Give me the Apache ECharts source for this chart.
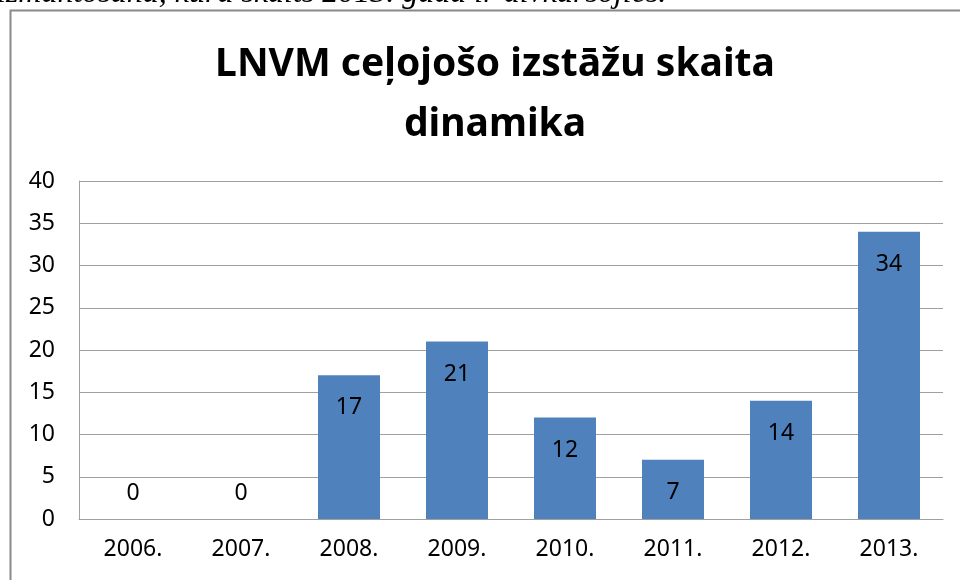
<!DOCTYPE html>
<html>
<head>
<meta charset="utf-8">
<script src="https://cdn.jsdelivr.net/npm/echarts@6/dist/echarts.min.js"></script>
<style>
  html, body { margin: 0; padding: 0; background: #fff; }
  #chartBar { width: 960px; height: 580px; }
</style>
</head>
<body>
<div id="chartBar"></div>
<script>
// dati
var years = ["2006.", "2007.", "2008.", "2009.", "2010.", "2011.", "2012.", "2013."];
var counts = [0, 0, 17, 21, 12, 7, 14, 34];
var yTicks = [0, 5, 10, 15, 20, 25, 30, 35, 40];

var chartBar = echarts.init(document.getElementById("chartBar"));

// nulles vērtībām uzraksts virs ass
var barData = counts.map(function(v) {
  if (v === 0) {
    return { value: v, label: { position: "top", distance: 14 } };
  }
  return v;
});

chartBar.setOption({
  animation: false,
  textStyle: { fontFamily: "Noto Sans" },
  title: {
    text: "LNVM ceļojošo izstāžu skaita\ndinamika",
    left: 490,
    top: 30,
    textAlign: "center",
    textStyle: {
      fontFamily: "Noto Sans",
      fontWeight: "bold",
      fontSize: 39,
      lineHeight: 60,
      color: "#000"
    }
  },
  graphic: [
    {
      type: "rect",
      shape: { x: 10.5, y: 10.5, width: 980, height: 600 },
      style: { fill: "none", stroke: "#8a8a8a", lineWidth: 2 }
    },
    {
      type: "text",
      left: -3,
      top: -22,
      style: {
        text: "izmantošana, kura skaits 2013. gadā ir divkāršojies.",
        font: "italic 32px 'Liberation Serif'",
        fill: "#000"
      }
    }
  ],
  grid: {
    left: 79,
    right: 17,
    top: 181,
    bottom: 61
  },
  xAxis: {
    type: "category",
    data: years,
    axisLine: { lineStyle: { color: "#a0a0a0", width: 1 } },
    axisTick: { show: false },
    axisLabel: { color: "#000", fontSize: 23, margin: 19 }
  },
  yAxis: {
    type: "value",
    min: yTicks[0],
    max: yTicks[yTicks.length - 1],
    interval: yTicks[1] - yTicks[0],
    axisLine: { show: true, lineStyle: { color: "#a0a0a0" } },
    axisTick: { show: false },
    splitLine: { lineStyle: { color: "#a0a0a0" } },
    axisLabel: { color: "#000", fontSize: 23, margin: 24 }
  },
  series: [
    {
      type: "bar",
      data: barData,
      barWidth: 62,
      itemStyle: { color: "#4F81BD" },
      label: {
        show: true,
        position: "insideTop",
        distance: 21,
        color: "#000",
        fontSize: 23
      }
    }
  ]
});
</script>
</body>
</html>
